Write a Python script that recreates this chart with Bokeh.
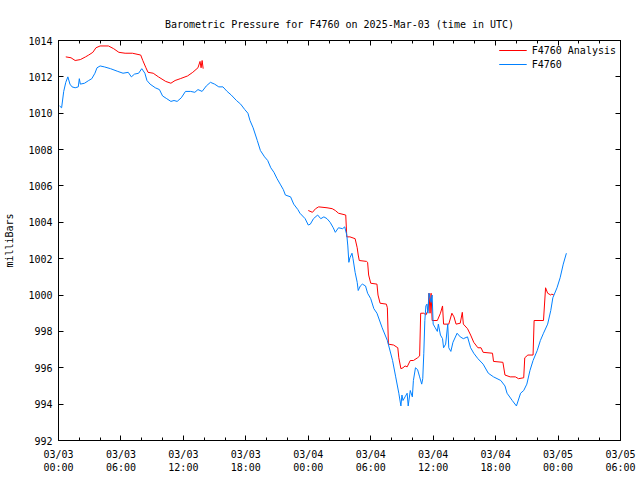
import math
from bokeh.plotting import figure
from bokeh.models import Range1d, FixedTicker, LinearAxis, Legend, LegendItem
from bokeh.embed import file_html
from bokeh.resources import INLINE

# ---- data (hours since 2025-03-03 00:00 UTC, pressure in mb) ----
obs_hours = [0.1, 0.3, 0.5, 0.7, 0.9, 1.1, 1.3, 1.6, 1.9, 2.0, 2.1, 2.5, 2.9, 3.2, 3.5, 3.7,
             4.0, 4.4, 5.0, 5.7, 6.2, 6.7, 7.0, 7.3, 7.7, 8.0, 8.3, 8.5, 8.8, 9.3, 9.7, 10.0,
             10.4, 10.8, 11.1, 11.4, 11.8, 12.2, 12.7, 13.1, 13.4, 13.8, 14.2, 14.6, 15.0, 15.4,
             15.8, 16.2, 16.6, 17.1, 17.5, 17.9, 18.2, 18.4, 18.7, 19.1, 19.4, 19.8, 20.1, 20.4,
             20.7, 21.0, 21.3, 21.6, 21.8, 22.3, 22.6, 23.0, 23.2, 23.7, 24.0, 24.2, 24.5, 24.9,
             25.2, 25.5, 25.8, 26.1, 26.4, 26.6, 26.9, 27.3, 27.5, 27.7, 27.8, 27.9, 28.0, 28.2,
             28.3, 28.5, 28.7, 28.8, 29.0, 29.2, 29.5, 29.7, 30.0, 30.3, 30.6, 31.1, 31.6, 32.1,
             32.4, 32.7, 32.9, 33.0, 33.1, 33.3, 33.5, 33.6, 33.8, 34.0, 34.1, 34.3, 34.5, 34.7,
             34.9, 35.0, 35.1, 35.2, 35.3, 35.4, 35.5, 35.6, 35.8, 35.9, 36.0, 36.2, 36.4, 36.5,
             36.7, 36.9, 37.0, 37.2, 37.4, 37.5, 37.7, 37.9, 38.3, 38.6, 38.9, 39.3, 39.6, 39.9,
             40.3, 40.8, 41.3, 41.8, 42.5, 42.9, 43.1, 43.6, 44.0, 44.4, 44.7, 45.0, 45.3, 45.6,
             46.0, 46.3, 46.6, 47.0, 47.3, 47.5, 47.9, 48.2, 48.5, 48.8]
obs_mb = [1010.4, 1010.3, 1011.2, 1011.7, 1012.0, 1011.6, 1011.45, 1011.4, 1011.45, 1011.9,
          1011.6, 1011.65, 1011.8, 1011.9, 1012.2, 1012.5, 1012.6, 1012.55, 1012.45, 1012.3,
          1012.2, 1012.25, 1012.0, 1012.15, 1012.2, 1012.45, 1012.2, 1011.8, 1011.6, 1011.4,
          1011.3, 1010.95, 1010.8, 1010.65, 1010.7, 1010.65, 1010.85, 1011.2, 1011.2, 1011.15,
          1011.3, 1011.2, 1011.5, 1011.7, 1011.6, 1011.45, 1011.45, 1011.2, 1011.0, 1010.7,
          1010.5, 1010.2, 1010.0, 1009.6, 1009.2, 1008.5, 1007.95, 1007.6, 1007.4, 1007.0,
          1006.75, 1006.4, 1006.1, 1005.8, 1005.5, 1005.4, 1005.0, 1004.7, 1004.5, 1004.2,
          1003.85, 1003.9, 1004.2, 1004.4, 1004.2, 1004.3, 1004.2, 1004.0, 1003.7, 1003.45,
          1003.7, 1003.65, 1003.75, 1003.3, 1002.7, 1001.8, 1002.05, 1002.3, 1002.0, 1001.25,
          1000.7, 1000.25, 1000.5, 1000.6, 1000.5, 1000.1, 999.8, 999.25, 999.0, 998.2,
          997.5, 996.4, 995.5, 994.6, 993.9, 994.5, 994.2, 994.4, 994.6, 993.9,
          994.75, 994.4, 995.3, 996.0, 995.9, 995.5, 995.1, 995.4, 996.8, 998.6,
          999.4, 999.5, 999.0, 1000.1, 999.6, 1000.0, 998.4, 998.2, 998.0, 998.4,
          997.8, 997.6, 997.1, 997.3, 998.4, 997.1, 996.9, 997.4, 997.9, 997.7,
          997.6, 997.7, 997.1, 996.8, 996.5, 996.2, 995.7, 995.5, 995.3, 995.0,
          994.6, 994.2, 993.9, 994.6, 994.75, 995.1, 995.85, 996.4, 996.95, 997.5,
          997.9, 998.4, 999.15, 999.85, 1000.4, 1000.95, 1001.7, 1002.3]

NAN = float("nan")
ana_hours = [0.7, 1.2, 1.6, 2.1, 2.6, 2.9, 3.3, 3.6, 4.0, 4.8, 5.3, 5.8, 6.4, 7.1, 7.9, 8.1,
             8.4, 8.6, 9.1, 9.6, 10.3, 10.8, 11.2, 11.7, 12.4, 12.9, 13.4, 13.6, 13.7, 13.8, 13.9,
             NAN,
             24.0, 24.4, 24.7, 25.0, 25.8, 26.3, 26.6, 26.9, 27.6, 27.7, 28.0, 28.5, 28.7, 28.8,
             28.9, 29.6, 29.7, 29.8, 30.0, 30.6, 30.7, 30.9, 31.5, 31.6, 31.7, 32.2, 32.6, 32.7,
             32.9, 33.1, 33.3, 33.5, 33.8, 34.1, 34.5, 34.7, 34.8, 35.1, 35.3, 35.5, 35.6, 35.7,
             35.8, 35.9, 36.4, 36.7, 36.9, 37.0, 37.5, 37.8, 38.0, 38.2, 38.6, 38.8, 38.9, 39.3,
             39.6, 39.9, 40.3, 40.6, 40.8, 41.7, 41.8, 42.7, 42.9, 43.4, 43.9, 44.2, 44.7, 44.8,
             45.1, 45.6, 45.7, 46.6, 46.8, 47.0, 47.3, 47.4, 47.6]
ana_mb = [1013.1, 1013.05, 1012.9, 1012.95, 1013.1, 1013.2, 1013.35, 1013.6, 1013.7, 1013.7,
          1013.55, 1013.35, 1013.3, 1013.3, 1013.2, 1012.9, 1012.5, 1012.25, 1012.2, 1012.0,
          1011.75, 1011.65, 1011.8, 1011.9, 1012.05, 1012.25, 1012.5, 1012.85, 1012.5, 1012.9,
          1012.45,
          NAN,
          1004.65, 1004.55, 1004.75, 1004.85, 1004.8, 1004.75, 1004.65, 1004.5, 1004.4, 1003.2,
          1003.2, 1003.1, 1002.6, 1002.2, 1001.9, 1001.85, 1001.8, 1001.1, 1000.65, 1000.6,
          1000.0, 999.55, 999.5, 999.3, 997.3, 997.25, 997.1, 996.55, 995.95, 996.0,
          996.1, 996.05, 996.4, 996.4, 996.55, 996.65, 999.0, 999.0, 998.9, 999.15,
          1000.1, 999.0, 1000.1, 998.6, 998.6, 999.0, 999.4, 998.4, 998.4, 999.0,
          998.8, 998.4, 998.45, 999.05, 998.4, 998.15, 997.8, 997.4, 997.1, 997.1,
          996.85, 996.8, 996.35, 996.3, 995.6, 995.5, 995.5, 995.4, 995.45, 996.55,
          996.7, 996.7, 998.6, 998.6, 1000.4, 1000.1, 1000.0, 1000.05, 1000.0]

x_ticks = [0, 6, 12, 18, 24, 30, 36, 42, 48, 54]
x_tick_labels = ["03/03\n00:00", "03/03\n06:00", "03/03\n12:00", "03/03\n18:00",
                 "03/04\n00:00", "03/04\n06:00", "03/04\n12:00", "03/04\n18:00",
                 "03/05\n00:00", "03/05\n06:00"]
x_minor = list(range(0, 55, 2))
y_ticks = [992, 994, 996, 998, 1000, 1002, 1004, 1006, 1008, 1010, 1012, 1014]

FONT = "DejaVu Sans Mono"
FS = "10px"

p = figure(width=640, height=480, output_backend="svg", toolbar_location=None,
           x_range=Range1d(0, 54), y_range=Range1d(992, 1014),
           min_border_left=58, min_border_right=20, min_border_top=40, min_border_bottom=40,
           title="Barometric Pressure for F4760 on 2025-Mar-03 (time in UTC)")
p.title.align = "center"
p.title.text_font = FONT
p.title.text_font_size = FS
p.title.text_font_style = "normal"
p.title.text_color = "black"
p.title.standoff = 22

p.xgrid.visible = False
p.ygrid.visible = False
p.outline_line_color = "black"
p.outline_line_width = 1
p.background_fill_color = "white"
p.border_fill_color = "white"

xt = FixedTicker(ticks=x_ticks, minor_ticks=x_minor)
yt = FixedTicker(ticks=y_ticks, minor_ticks=[])

def style_axis(ax):
    ax.axis_line_color = "black"
    ax.major_tick_in = 5
    ax.major_tick_out = 0
    ax.minor_tick_in = 3
    ax.minor_tick_out = 0
    ax.major_tick_line_color = "black"
    ax.minor_tick_line_color = "black"
    ax.major_label_text_font = FONT
    ax.major_label_text_font_size = FS
    ax.major_label_text_color = "black"

xa = p.xaxis[0]
xa.ticker = xt
xa.major_label_overrides = {t: l for t, l in zip(x_ticks, x_tick_labels)}
xa.major_label_standoff = 8
style_axis(xa)

ya = p.yaxis[0]
ya.ticker = yt
ya.axis_label = "milliBars"
ya.axis_label_text_font = FONT
ya.axis_label_text_font_size = FS
ya.axis_label_text_font_style = "normal"
ya.axis_label_text_color = "black"
ya.axis_label_standoff = 10
ya.major_label_standoff = 6
style_axis(ya)

# mirrored ticks on top and right (no labels)
top_ax = LinearAxis(ticker=xt, major_label_overrides={t: "" for t in x_ticks})
style_axis(top_ax)
p.add_layout(top_ax, "above")
right_ax = LinearAxis(ticker=yt, major_label_overrides={t: "" for t in y_ticks})
style_axis(right_ax)
p.add_layout(right_ax, "right")

r_ana = p.line(ana_hours, ana_mb, line_color="#ff0000", line_width=1)
r_obs = p.line(obs_hours, obs_mb, line_color="#0080ff", line_width=1)

legend = Legend(items=[LegendItem(label="F4760 Analysis", renderers=[r_ana]),
                       LegendItem(label="F4760", renderers=[r_obs])],
                location="top_right")
legend.border_line_color = None
legend.background_fill_alpha = 0
legend.label_text_font = FONT
legend.label_text_font_size = FS
legend.label_text_color = "black"
legend.glyph_width = 28
legend.glyph_height = 12
legend.label_height = 12
legend.spacing = 2
legend.padding = 4
legend.margin = 4
p.add_layout(legend)

open("out.html", "w").write(file_html(p, INLINE))
